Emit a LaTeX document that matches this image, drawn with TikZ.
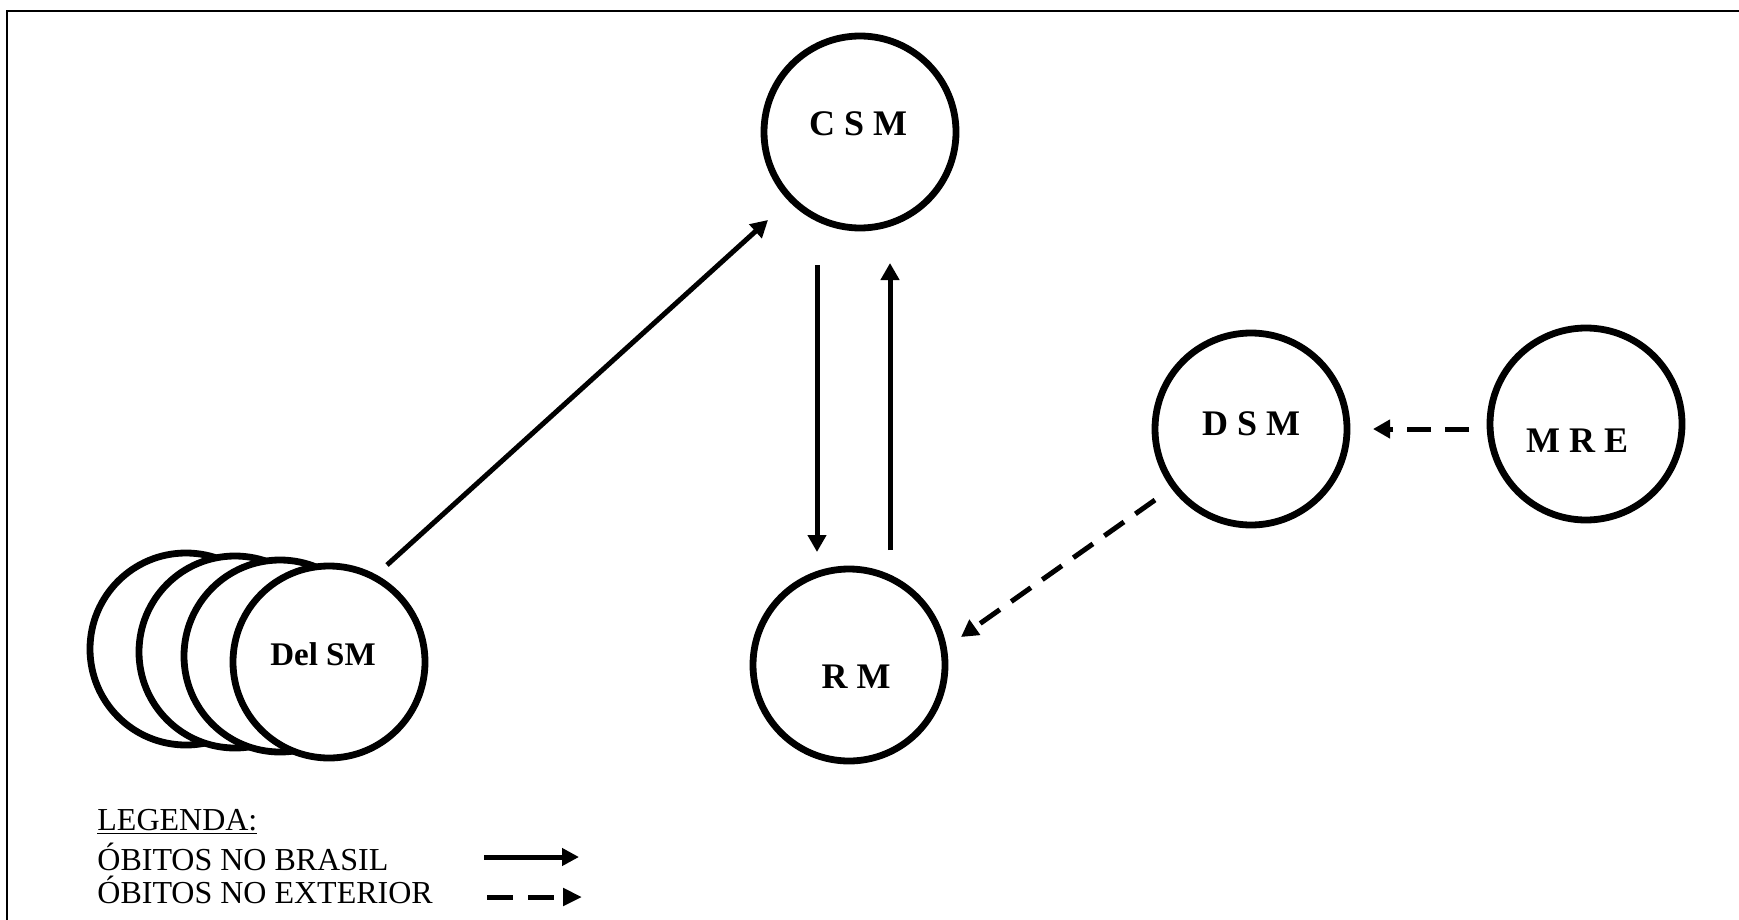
\documentclass[tikz,border=0pt]{standalone}
\usepackage{fontspec}
\setmainfont{Liberation Serif}
\usetikzlibrary{arrows.meta}
\begin{document}
\begin{tikzpicture}[x=0.5pt,y=-0.5pt,
  circ/.style={circle,draw,line width=3.4pt,fill=white,minimum size=96pt,inner sep=0pt},
  lab/.style={font=\fontsize{18pt}{20pt}\selectfont\bfseries,anchor=base,inner sep=0pt},
  dlab/.style={font=\fontsize{16.5pt}{18pt}\selectfont\bfseries,anchor=base,inner sep=0pt},
  leg/.style={font=\fontsize{16pt}{18pt}\selectfont,anchor=base west,inner sep=0pt},
  arr/.style={line width=2.5pt,-{Triangle[length=8.5pt,width=9pt]}},
  darr/.style={arr,dash pattern=on 12pt off 7pt},
  legarr/.style={line width=2.5pt,-{Triangle[length=8.5pt,width=8.5pt]}},
  legdarr/.style={line width=2.5pt,-{Triangle[length=9.5pt,width=8.5pt]},dash pattern=on 13pt off 7.5pt}]
\useasboundingbox (0,0) rectangle (1739,920);
\clip (0,0) rectangle (1739,920);
\draw[line width=1pt] (7,11) rectangle (1800,1000);

% nodes
\node[circ] (csm) at (860,132) {};
\node[lab] (csmt) at (858,135) {C S M};
\node[circ] (rm) at (849,665) {};
\node[lab] (rmt) at (856,688) {R M};
\node[circ] (dsm) at (1251,429) {};
\node[lab] (dsmt) at (1251,435) {D S M};
\node[circ] (mre) at (1586,424) {};
\node[lab] (mret) at (1577,452) {M R E};

\node[circ] (d1) at (186,649) {};
\node[circ] (d2) at (235,652) {};
\node[circ] (d3) at (280,656) {};
\node[circ] (del) at (329,662) {};
\node[dlab] (delt) at (323,665) {Del SM};

% connectors
\draw[arr] ([shift={(58,-97)}]del.center) -- ([shift={(-92,88)}]csm.center);
\draw[arr] ([shift={(-43,133)}]csm.center) -- ([shift={(-32,-113)}]rm.center);
\draw[arr] ([shift={(41,-115)}]rm.center) -- ([shift={(30,131)}]csm.center);
\draw[darr] ([shift={(-117,5)}]mre.center) -- ([shift={(122,0)}]dsm.center);
\draw[darr] ([shift={(-96,71)}]dsm.center) -- ([shift={(112,-28)}]rm.center);

% legend
\node[leg] (l0) at (97,830) {\underline{LEGENDA:}};
\node[leg] (l1) at (97,870) {ÓBITOS NO BRASIL};
\node[leg] (l2) at (97,903) {ÓBITOS NO EXTERIOR};
\coordinate (a1s) at (484,857);
\coordinate (a1e) at (579,857);
\coordinate (a2s) at (487,897);
\coordinate (a2e) at (582,897);
\draw[legarr] (a1s) -- (a1e);
\draw[legdarr] (a2s) -- (a2e);
\end{tikzpicture}
\end{document}
